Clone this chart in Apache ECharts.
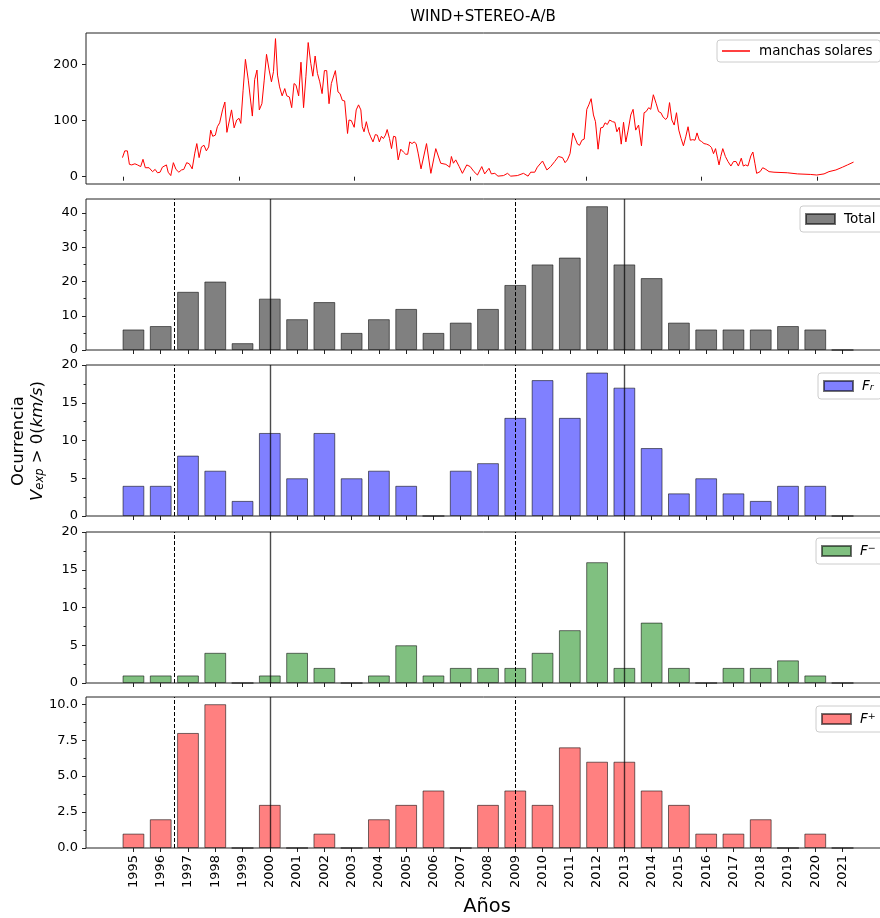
<!DOCTYPE html>
<html><head><meta charset="utf-8">
<script src="https://cdn.jsdelivr.net/npm/echarts@6/dist/echarts.min.js"></script>
<style>html,body{margin:0;padding:0;background:#fff}#c{width:880px;height:918px}</style>
</head><body><div id="c"></div>
<script>
// ---- data ----
const years = [1995,1996,1997,1998,1999,2000,2001,2002,2003,2004,2005,2006,2007,2008,2009,2010,2011,2012,2013,2014,2015,2016,2017,2018,2019,2020,2021];
const total  = [6,7,17,20,2,15,9,14,5,9,12,5,8,12,19,25,27,42,25,21,8,6,6,6,7,6,0];
const fr     = [4,4,8,6,2,11,5,11,5,6,4,0,6,7,13,18,13,19,17,9,3,5,3,2,4,4,0];
const fminus = [1,1,1,4,0,1,4,2,0,1,5,1,2,2,2,4,7,16,2,8,2,0,2,2,3,1,0];
const fplus  = [1,2,8,10,0,3,0,1,0,2,3,4,0,3,4,3,7,6,6,4,3,1,1,2,0,1,0];
const minLines = [1996.5, 2009];   // dashed
const maxLines = [2000, 2013];     // solid
const ssnTicks = [1996,2000,2004,2008,2012,2016,2020];
const ssnT = [1995.98,1996.06,1996.15,1996.22,1996.30,1996.41,1996.50,1996.61,1996.69,1996.77,1996.90,1997.02,1997.11,1997.19,1997.28,1997.36,1997.42,1997.50,1997.56,1997.65,1997.74,1997.83,1997.93,1998.02,1998.10,1998.20,1998.29,1998.39,1998.48,1998.55,1998.63,1998.71,1998.80,1998.88,1998.96,1999.03,1999.10,1999.19,1999.26,1999.34,1999.44,1999.52,1999.59,1999.68,1999.75,1999.84,1999.93,2000.01,2000.07,2000.15,2000.23,2000.33,2000.47,2000.55,2000.63,2000.71,2000.80,2000.88,2000.96,2001.05,2001.13,
2001.20,2001.27,2001.34,2001.41,2001.50,2001.59,2001.66,2001.75,2001.83,2001.91,2001.98,2002.07,2002.15,2002.24,2002.32,2002.40,2002.49,2002.56,2002.64,2002.72,2002.80,2002.88,2002.96,2003.04,2003.12,2003.20,2003.34,2003.43,2003.50,2003.58,2003.66,2003.76,2003.81,2003.89,2003.99,2004.06,2004.14,2004.22,2004.27,2004.33,2004.41,2004.49,2004.56,2004.64,2004.72,2004.79,2004.86,2004.93,2005.00,2005.07,2005.13,2005.21,2005.28,2005.35,2005.42,2005.51,2005.60,2005.69,2005.77,2005.84,2005.91,2005.99,2006.06,2006.13,2006.20,2006.30,
2006.49,2006.64,2006.81,2006.98,2007.16,2007.21,2007.29,2007.35,2007.42,2007.50,2007.62,2007.73,2007.88,2008.00,2008.13,2008.25,2008.40,2008.50,2008.65,2008.73,2008.85,2008.96,2009.15,2009.29,2009.40,2009.63,2009.84,2010.00,2010.09,2010.23,2010.32,2010.50,2010.65,2010.78,2010.92,2011.05,2011.19,2011.28,2011.36,2011.45,
2011.55,2011.61,2011.71,2011.78,2011.86,2011.94,2012.03,2012.10,2012.18,2012.26,2012.33,2012.42,2012.51,2012.59,2012.66,2012.74,2012.82,2012.92,2013.00,2013.07,2013.15,2013.22,2013.30,2013.38,2013.46,2013.55,2013.63,2013.72,2013.82,2013.92,2014.01,2014.08,2014.17,2014.24,2014.33,2014.43,2014.51,2014.59,2014.67,2014.76,2014.82,2014.89,2014.97,2015.05,2015.13,2015.21,2015.29,2015.37,2015.45,2015.53,2015.61,2015.69,2015.77,2015.84,2015.92,2015.99,2016.08,2016.17,2016.26,2016.34,2016.41,2016.48,2016.55,2016.60,2016.66,
2016.73,2016.82,2016.91,2017.01,2017.10,2017.19,2017.27,2017.37,2017.44,2017.52,2017.60,2017.70,2017.77,2017.84,2017.90,2018.02,2018.11,2018.22,2018.33,2018.50,2018.96,2019.31,2019.77,2019.98,2020.23,2020.40,2020.64,2020.87,2021.04,2021.25];
const ssnV = [34,46,46,22,21,23,21,18,31,16,16,9,13,7,8,17,14,21,8,2,25,13,8,12,13,25,23,14,42,59,34,53,56,46,53,83,72,74,89,96,119,133,79,101,119,87,101,104,95,154,209,172,108,173,190,119,130,172,218,190,169,
187,246,181,160,144,157,144,142,123,166,163,144,204,123,178,239,202,179,215,184,169,148,189,189,130,166,189,151,148,136,135,77,101,100,88,119,128,119,89,80,98,80,71,62,75,74,62,72,68,74,84,68,50,72,71,30,49,44,40,40,62,59,62,59,42,14,
59,6,50,24,22,24,17,36,24,30,18,6,21,18,9,3,18,5,15,5,6,1,2,6,1,2,6,1,8,8,17,28,12,18,27,36,34,25,30,41,
78,76,58,56,65,67,120,128,139,110,98,49,87,88,96,93,101,98,97,80,88,58,97,62,83,110,120,83,92,55,114,116,123,120,146,130,116,114,106,102,106,132,101,92,114,83,68,55,71,89,65,66,65,78,65,63,59,58,56,52,41,50,33,21,36,
50,36,27,19,27,27,19,33,19,21,19,37,44,24,6,9,16,13,9,8,7,5,4,3,5,9,12,17,21,26];

// ---- chart ----
const FONT = 'DejaVu Sans';
const AX = '#222';
const gridTops = [33, 199, 365, 532, 697];
const GH = 151;

const grids = gridTops.map(t => ({left: 86, top: t, width: 804, height: GH, show: true,
  borderColor: AX, borderWidth: 1, backgroundColor: 'transparent', outerBoundsMode: 'none', containLabel: false}));

const xAxes = [{
  gridIndex: 0, type: 'value', min: 1994.72, max: 2022.51,
  axisLine: {show: false}, splitLine: {show: false},
  axisTick: {show: true, customValues: ssnTicks, length: 4, lineStyle: {color: AX}},
  axisLabel: {show: false}
}];
for (let i = 1; i <= 4; i++) {
  xAxes.push({
    gridIndex: i, type: 'value', min: 1993.26, max: 2022.74,
    axisLine: {show: false}, splitLine: {show: false},
    axisTick: {show: true, customValues: years, length: 4, lineStyle: {color: AX}},
    axisLabel: i === 4 ? {show: true, customValues: years, rotate: 90, margin: 7,
      formatter: v => String(Math.round(v)),
      fontFamily: FONT, fontSize: 13, color: '#000'} : {show: false}
  });
}

const yDefs = [
  {min: -13, max: 256, ticks: [0,100,200], minor: null, fmt: v => String(v)},
  {min: 0, max: 44.1, ticks: [0,10,20,30,40], minor: [5,15,25,35], fmt: v => String(v)},
  {min: 0, max: 20, ticks: [0,5,10,15,20], minor: [2.5,7.5,12.5,17.5], fmt: v => String(v)},
  {min: 0, max: 20, ticks: [0,5,10,15,20], minor: [2.5,7.5,12.5,17.5], fmt: v => String(v)},
  {min: 0, max: 10.5, ticks: [0,2.5,5,7.5,10], minor: [1.25,3.75,6.25,8.75], fmt: v => v.toFixed(1)}
];
const yAxes = yDefs.map((d, i) => ({
  gridIndex: i, type: 'value', position: 'left', min: d.min, max: d.max,
  axisLine: {show: false}, splitLine: {show: false},
  axisTick: {show: true, customValues: d.ticks, length: 4, lineStyle: {color: AX}},
  axisLabel: {show: true, customValues: d.ticks, formatter: d.fmt, margin: 8,
    fontFamily: FONT, fontSize: 13, color: '#000'}
}));
yDefs.forEach((d, i) => {
  if (!d.minor) return;
  yAxes.push({
    gridIndex: i, type: 'value', position: 'left', min: d.min, max: d.max,
    axisLine: {show: false}, splitLine: {show: false}, axisLabel: {show: false},
    axisTick: {show: true, customValues: d.minor, length: 2.5, lineStyle: {color: AX}}
  });
});

const vlines = {
  silent: true, symbol: ['none', 'none'], label: {show: false}, animation: false,
  data: [
    ...minLines.map(v => ({xAxis: v, lineStyle: {type: [4, 2], color: '#000', width: 1}})),
    ...maxLines.map(v => ({xAxis: v, lineStyle: {type: 'solid', color: 'rgba(0,0,0,0.7)', width: 1.4}}))
  ]
};

function barSeries(name, vals, idx, fill) {
  return {
    type: 'bar', name: name, xAxisIndex: idx, yAxisIndex: idx,
    data: years.map((y, k) => [y, vals[k]]),
    barWidth: 21.8,
    itemStyle: {color: fill, borderColor: 'rgba(0,0,0,0.55)', borderWidth: 1},
    markLine: vlines, z: 2
  };
}

const series = [
  {type: 'line', name: 'manchas solares', xAxisIndex: 0, yAxisIndex: 0,
   data: ssnT.map((t, k) => [t, ssnV[k]]), symbol: 'none', showSymbol: false,
   lineStyle: {color: '#ff0000', width: 1}, itemStyle: {color: '#ff0000'}},
  barSeries('Total', total, 1, '#808080'),
  barSeries('Fr', fr, 2, '#8080ff'),
  barSeries('Fminus', fminus, 3, '#80c080'),
  barSeries('Fplus', fplus, 4, '#ff8080')
];

const richLeg = {
  i: {fontFamily: FONT, fontStyle: 'italic', fontSize: 13.5, color: '#000'},
  sub: {fontFamily: FONT, fontStyle: 'italic', fontSize: 9.5, color: '#000', verticalAlign: 'bottom'},
  sup: {fontFamily: FONT, fontSize: 9.5, color: '#000', verticalAlign: 'top'}
};
function leg(name, left, top, fmt, extra) {
  return Object.assign({
    data: [name], left: left, top: top, orient: 'horizontal', selectedMode: false,
    icon: 'rect', itemWidth: 29, itemHeight: 10,
    padding: [6, 8, 6, 5], backgroundColor: 'rgba(255,255,255,0.8)',
    borderColor: '#cccccc', borderWidth: 1, borderRadius: 3,
    textStyle: {fontFamily: FONT, fontSize: 13.5, color: '#000', rich: richLeg, padding: [0, 0, 0, 4]},
    formatter: fmt
  }, extra || {});
}
const legends = [
  leg('manchas solares', 717, 40, n => n, {itemWidth: 28, itemHeight: 1.5, padding: [4, 8, 4, 5]}),
  leg('Total', 800, 206, n => n),
  leg('Fr', 818, 373, () => '{i|F}{sub|r}'),
  leg('Fminus', 816, 538, () => '{i|F}{sup|\u2212}'),
  leg('Fplus', 816, 706, () => '{i|F}{sup|+}')
];

const graphic = [
  {type: 'text', x: 483, y: 17, style: {text: 'WIND+STEREO-A/B', fontFamily: FONT, fontSize: 15,
    fill: '#000', align: 'center', verticalAlign: 'middle'}},
  {type: 'text', x: 487, y: 907, style: {text: 'Años', fontFamily: FONT, fontSize: 19.4,
    fill: '#000', align: 'center', verticalAlign: 'middle'}},
  {type: 'text', x: 19, y: 441, rotation: Math.PI / 2, style: {text: 'Ocurrencia', fontFamily: FONT,
    fontSize: 16.5, fill: '#000', align: 'center', verticalAlign: 'middle'}},
  {type: 'text', x: 38, y: 441, rotation: Math.PI / 2, style: {
    text: '{i|V}{s|exp}{n| > 0(}{i|km/s}{n|)}', align: 'center', verticalAlign: 'middle',
    rich: {
      i: {fontFamily: FONT, fontStyle: 'italic', fontSize: 16.5, fill: '#000', color: '#000'},
      s: {fontFamily: FONT, fontStyle: 'italic', fontSize: 11.5, fill: '#000', color: '#000', verticalAlign: 'bottom'},
      n: {fontFamily: FONT, fontSize: 16.5, fill: '#000', color: '#000'}
    }}}
];

const chart = echarts.init(document.getElementById('c'), null, {renderer: 'canvas'});
chart.setOption({
  animation: false,
  backgroundColor: '#ffffff',
  grid: grids, xAxis: xAxes, yAxis: yAxes, series: series,
  legend: legends, graphic: graphic
});
</script></body></html>
